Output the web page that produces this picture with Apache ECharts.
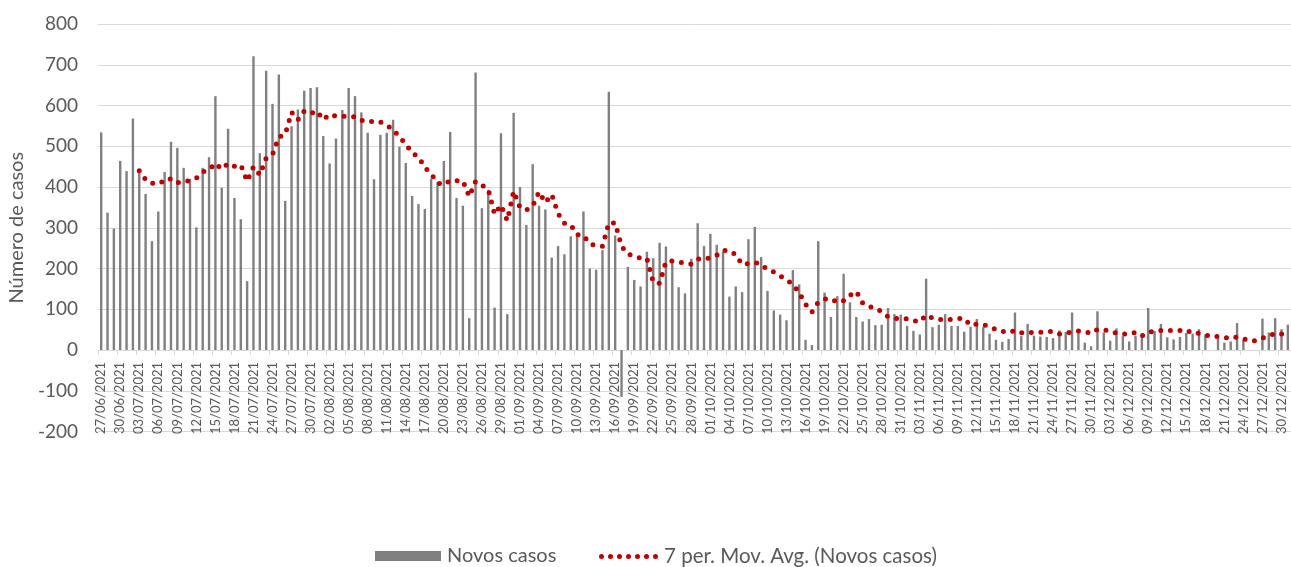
<!DOCTYPE html>
<html>
<head>
<meta charset="utf-8">
<script src="https://cdn.jsdelivr.net/npm/echarts@6/dist/echarts.min.js"></script>
<style>
html,body{margin:0;padding:0;background:#fff;}
#chart{width:1291px;height:567px;}
</style>
</head>
<body>
<div id="chart"></div>
<script>
// Categories (daily dates)
const daysJun = ['27/06/2021','28/06/2021','29/06/2021','30/06/2021'];
const daysJul = ['01/07/2021','02/07/2021','03/07/2021','04/07/2021','05/07/2021','06/07/2021','07/07/2021','08/07/2021','09/07/2021','10/07/2021','11/07/2021','12/07/2021','13/07/2021','14/07/2021','15/07/2021','16/07/2021','17/07/2021','18/07/2021','19/07/2021','20/07/2021','21/07/2021','22/07/2021','23/07/2021','24/07/2021','25/07/2021','26/07/2021','27/07/2021','28/07/2021','29/07/2021','30/07/2021','31/07/2021'];
const daysAug = ['01/08/2021','02/08/2021','03/08/2021','04/08/2021','05/08/2021','06/08/2021','07/08/2021','08/08/2021','09/08/2021','10/08/2021','11/08/2021','12/08/2021','13/08/2021','14/08/2021','15/08/2021','16/08/2021','17/08/2021','18/08/2021','19/08/2021','20/08/2021','21/08/2021','22/08/2021','23/08/2021','24/08/2021','25/08/2021','26/08/2021','27/08/2021','28/08/2021','29/08/2021','30/08/2021','31/08/2021'];
const daysSep = ['01/09/2021','02/09/2021','03/09/2021','04/09/2021','05/09/2021','06/09/2021','07/09/2021','08/09/2021','09/09/2021','10/09/2021','11/09/2021','12/09/2021','13/09/2021','14/09/2021','15/09/2021','16/09/2021','17/09/2021','18/09/2021','19/09/2021','20/09/2021','21/09/2021','22/09/2021','23/09/2021','24/09/2021','25/09/2021','26/09/2021','27/09/2021','28/09/2021','29/09/2021','30/09/2021'];
const daysOct = ['01/10/2021','02/10/2021','03/10/2021','04/10/2021','05/10/2021','06/10/2021','07/10/2021','08/10/2021','09/10/2021','10/10/2021','11/10/2021','12/10/2021','13/10/2021','14/10/2021','15/10/2021','16/10/2021','17/10/2021','18/10/2021','19/10/2021','20/10/2021','21/10/2021','22/10/2021','23/10/2021','24/10/2021','25/10/2021','26/10/2021','27/10/2021','28/10/2021','29/10/2021','30/10/2021','31/10/2021'];
const daysNov = ['01/11/2021','02/11/2021','03/11/2021','04/11/2021','05/11/2021','06/11/2021','07/11/2021','08/11/2021','09/11/2021','10/11/2021','11/11/2021','12/11/2021','13/11/2021','14/11/2021','15/11/2021','16/11/2021','17/11/2021','18/11/2021','19/11/2021','20/11/2021','21/11/2021','22/11/2021','23/11/2021','24/11/2021','25/11/2021','26/11/2021','27/11/2021','28/11/2021','29/11/2021','30/11/2021'];
const daysDec = ['01/12/2021','02/12/2021','03/12/2021','04/12/2021','05/12/2021','06/12/2021','07/12/2021','08/12/2021','09/12/2021','10/12/2021','11/12/2021','12/12/2021','13/12/2021','14/12/2021','15/12/2021','16/12/2021','17/12/2021','18/12/2021','19/12/2021','20/12/2021','21/12/2021','22/12/2021','23/12/2021','24/12/2021','25/12/2021','26/12/2021','27/12/2021','28/12/2021','29/12/2021','30/12/2021','31/12/2021'];

// Daily new cases, per month
const casesJun = [534, 337, 298, 464];
const casesJul = [439, 568, 440, 383, 267, 340, 437, 511, 496, 447, 420, 301, 447, 473, 623, 398, 543, 373, 321, 169, 721, 483, 685, 604, 676, 366, 549, 590, 636, 643, 645];
const casesAug = [525, 458, 519, 589, 643, 623, 583, 533, 419, 528, 533, 565, 499, 459, 378, 358, 346, 420, 413, 464, 535, 373, 354, 78, 681, 348, 393, 104, 532, 88, 582];
const casesSep = [400, 307, 456, 354, 345, 227, 255, 235, 279, 286, 340, 200, 197, 245, 634, 281, -115, 204, 172, 156, 241, 225, 263, 254, 219, 154, 139, 224, 311, 255];
const casesOct = [285, 258, 241, 131, 156, 142, 272, 302, 228, 145, 97, 87, 73, 196, 161, 25, 12, 267, 141, 81, 132, 187, 117, 81, 70, 76, 61, 62, 103, 88, 87];
const casesNov = [59, 47, 38, 175, 56, 62, 88, 59, 59, 45, 57, 76, 56, 40, 25, 20, 27, 92, 34, 64, 35, 33, 32, 29, 48, 44, 92, 47, 18, 9];
const casesDec = [95, 43, 23, 53, 34, 21, 35, 32, 103, 47, 64, 31, 26, 32, 42, 40, 51, 38, 0, 29, 18, 21, 66, 25, 0, 0, 77, 43, 78, 51, 62];

// Y axis ticks
const yTicks = [-200, -100, 0, 100, 200, 300, 400, 500, 600, 700, 800];

const categories = [].concat(daysJun, daysJul, daysAug, daysSep, daysOct, daysNov, daysDec);
const cases = [].concat(casesJun, casesJul, casesAug, casesSep, casesOct, casesNov, casesDec);

// 7-period moving average trendline (as the original's trendline is defined)
const movAvg = cases.map((v, i) => {
  if (i < 6) return null;
  let s = 0;
  for (let k = i - 6; k <= i; k++) s += cases[k];
  return +(s / 7).toFixed(1);
});

const FONT = 'Lato, "Open Sans", sans-serif';
const TXT = '#595959';

// legend icon: a row of seven round dots
let dotsPath = 'path://';
for (let i = 0; i < 7; i++) {
  const cx = 2.5 + i * 9;
  dotsPath += 'M' + (cx - 2.5) + ',2.5a2.5,2.5 0 1,0 5,0a2.5,2.5 0 1,0 -5,0z';
}

const chart = echarts.init(document.getElementById('chart'), null, {renderer: 'canvas'});
chart.setOption({
  animation: false,
  backgroundColor: '#ffffff',
  grid: {left: 98, right: 0, top: 24, bottom: 135.5, containLabel: false, outerBoundsMode: 'none'},
  legend: [
    {
      data: [{name: 'Novos casos', icon: 'rect'}],
      left: 370, top: 541,
      itemWidth: 66, itemHeight: 10,
      textStyle: {color: TXT, fontSize: 20, fontFamily: FONT, padding: [0, 0, 0, 1]}
    },
    {
      data: [{name: '7 per. Mov. Avg. (Novos casos)', icon: dotsPath}],
      left: 594, top: 541,
      itemWidth: 59, itemHeight: 5,
      textStyle: {color: TXT, fontSize: 20.5, fontFamily: FONT, padding: [0, 0, 0, 1]}
    }
  ],
  xAxis: {
    type: 'category',
    data: categories,
    boundaryGap: true,
    offset: -81.5,
    axisLine: {onZero: false, lineStyle: {color: '#d9d9d9', width: 1}},
    axisTick: {show: true, interval: 2, length: 5, lineStyle: {color: '#d9d9d9'}},
    axisLabel: {interval: 2, rotate: 90, margin: 12, color: TXT, fontSize: 13, fontFamily: FONT},
    splitLine: {show: false}
  },
  yAxis: {
    type: 'value',
    min: yTicks[0], max: yTicks[yTicks.length - 1], interval: 100,
    name: 'Número de casos',
    nameLocation: 'middle',
    nameGap: 70,
    nameTextStyle: {color: TXT, fontSize: 20, fontFamily: FONT},
    axisLine: {show: false},
    axisTick: {show: false},
    axisLabel: {color: TXT, fontSize: 19, fontFamily: FONT, margin: 20},
    splitLine: {lineStyle: {color: '#d9d9d9', width: 1}}
  },
  series: [
    {
      name: 'Novos casos',
      type: 'bar',
      data: cases,
      barWidth: 2.4,
      itemStyle: {color: '#808080'},
      z: 2
    },
    {
      name: '7 per. Mov. Avg. (Novos casos)',
      type: 'line',
      data: movAvg,
      symbol: 'none',
      showSymbol: false,
      connectNulls: false,
      smooth: false,
      lineStyle: {color: '#c00000', width: 5, type: [0, 9.6], cap: 'round'},
      itemStyle: {color: '#c00000'},
      z: 3
    }
  ]
});
</script>
</body>
</html>
